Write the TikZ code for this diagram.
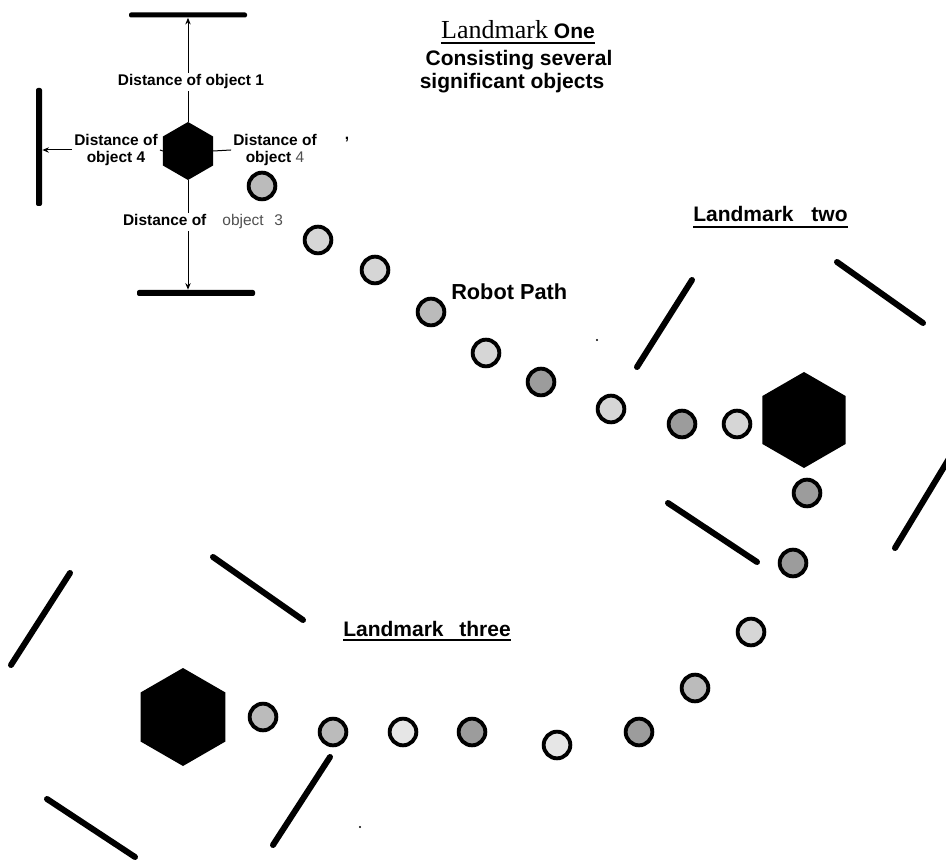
\documentclass[tikz,border=0pt]{standalone}
\usepackage{fontspec}
\setmainfont{Liberation Sans}
\newfontfamily\serifft{Liberation Serif}
\usetikzlibrary{shapes.geometric,arrows.meta}
\definecolor{lt}{HTML}{D6D6D6}
\definecolor{wh}{HTML}{E6E6E6}
\definecolor{md}{HTML}{BBBBBB}
\definecolor{dk}{HTML}{9C9C9C}
\definecolor{gtxt}{HTML}{505050}
\begin{document}
\begin{tikzpicture}[x=0.75pt,y=-0.75pt,
  hex/.style={regular polygon, regular polygon sides=6, shape border rotate=30, fill=black, draw=none, inner sep=0pt, outer sep=0pt},
  pc/.style={circle, draw=black, line width=2.9pt, minimum size=20pt, inner sep=0pt},
  bar/.style={fill=black, draw=none, inner sep=0pt, rounded corners=1.5pt},
  wall/.style={line width=4.5pt, line cap=round},
  thinln/.style={line width=0.75pt},
  arr/.style={-{Stealth[length=5pt,width=4pt]}},
  lbl/.style={font=\fontsize{11.6}{12.75}\selectfont\bfseries, align=center, inner sep=1.5pt},
  big/.style={font=\fontsize{15.75}{18}\selectfont\bfseries, inner sep=0pt, anchor=base},
  bigw/.style={font=\fontsize{15.75}{18}\selectfont\bfseries, inner sep=0pt, anchor=base west},
  uline/.style={line width=1.6pt}
]
\useasboundingbox (0,0) rectangle (946,862);

% ---------- Landmark one (top left) ----------
\node[hex, minimum size=43.5pt] (h1) at (188,151) {};
\node[bar, minimum width=88.5pt, minimum height=3.75pt] (tb) at (188,15) {};
\node[bar, minimum width=4.5pt, minimum height=88.5pt] (lb) at (39,147) {};
\node[bar, minimum width=88.5pt, minimum height=4.5pt] (bb) at (196,293) {};

\node[lbl] (d1) at (191,82) {Distance of object 1};
\node[lbl] (d4l) at (116,150) {Distance of\\object 4};
\node[lbl] (d4r) at (275,150) {Distance of\\object {\mdseries\color{gtxt}4}};
\node[lbl] (d3) at (203,222) {Distance of\hspace{12pt}{\mdseries\color{gtxt}object\hspace{8pt}3}};
\node[lbl] (cm) at (347,140) {,};

\draw[thinln] (h1.north) -- (h1.north |- d1.south);
\draw[thinln,arr] (h1.north |- d1.north) -- (h1.north |- tb.south);
\draw[thinln] (h1.west) -- (d4l.east);
\draw[thinln,arr] (d4l.west) -- (d4l.west -| lb.east);
\draw[thinln] (h1.east) -- (d4r.west);
\draw[thinln] (h1.south) -- (h1.south |- d3.north);
\draw[thinln,arr] (h1.south |- d3.south) -- (h1.south |- bb.north);

% ---------- Title ----------
\node[big] (t1) at (518,39) {{\serifft\mdseries\fontsize{19.5}{21}\selectfont Landmark} One};
\draw[uline] ([yshift=-3pt]t1.base west) -- ([yshift=-3pt]t1.base east);
\node[big] (t2) at (519,66) {Consisting several};
\node[big] (t3) at (512,89) {significant objects};

% ---------- Robot path ----------
\node[bigw, font=\fontsize{16.3}{18}\selectfont\bfseries] (rp) at (451,300) {Robot Path};
\node[pc, fill=md] (p1) at (262,186) {};
\node[pc, fill=lt] (p2) at (318,240) {};
\node[pc, fill=lt] (p3) at (375,270) {};
\node[pc, fill=md] (p4) at (431,312) {};
\node[pc, fill=lt] (p5) at (486,353) {};
\node[pc, fill=dk] (p6) at (541,382) {};
\node[pc, fill=lt] (p7) at (611,409) {};
\node[pc, fill=dk] (p8) at (682,424) {};
\node[pc, fill=lt] (p9) at (737,424) {};
\node[pc, fill=dk] (p10) at (807,493) {};
\node[pc, fill=dk] (p11) at (793,563) {};
\node[pc, fill=lt] (p12) at (751,632) {};
\node[pc, fill=md] (p13) at (695,688) {};
\node[pc, fill=dk] (p14) at (639,732) {};
\node[pc, fill=wh] (p15) at (557,745) {};
\node[pc, fill=dk] (p16) at (472,732) {};
\node[pc, fill=wh] (p17) at (403,732) {};
\node[pc, fill=md] (p18) at (333,732) {};
\node[pc, fill=md] (p19) at (263,717) {};

% ---------- Landmark two ----------
\node[bigw] (l2) at (693,222) {Landmark\hspace{0.85em}two};
\draw[uline] ([yshift=-3.5pt]l2.base west) -- ([yshift=-3.5pt]l2.base east);
\node[hex, minimum size=72pt] (h2) at (804,420) {};
\draw[wall] (692,280) -- (637,367);
\draw[wall] (837,262) -- (923,323);
\draw[wall] (668,503) -- (757,562);
\draw[wall] (950,457) -- (895,548);

% ---------- Landmark three ----------
\node[bigw] (l3) at (343,636) {Landmark\hspace{0.75em}three};
\draw[uline] ([yshift=-3pt]l3.base west) -- ([yshift=-3pt]l3.base east);
\node[hex, minimum size=73.5pt] (h3) at (183,717) {};
\draw[wall] (70,573) -- (11,665);
\draw[wall] (213,557) -- (303,620);
\draw[wall] (330,757) -- (273,845);
\draw[wall] (47,799) -- (135,857);

% specks
\fill (597,340) circle[radius=0.8pt];
\fill (360,827) circle[radius=0.8pt];
\end{tikzpicture}
\end{document}
